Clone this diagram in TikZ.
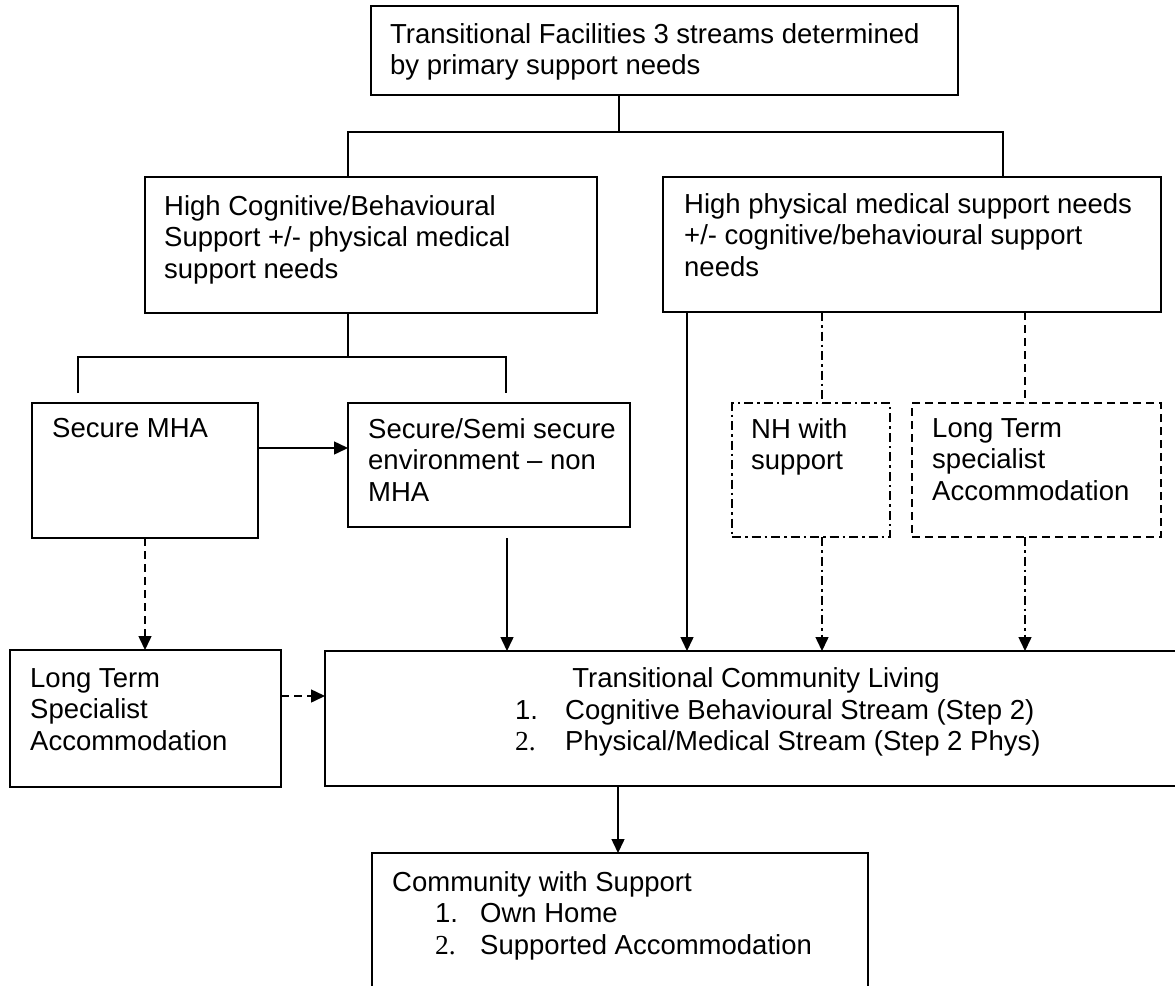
\documentclass[tikz,border=0pt]{standalone}
\usepackage{fontspec}
\setmainfont{Liberation Sans}
\newfontfamily\tnr{Liberation Serif}
\usetikzlibrary{arrows.meta}
\begin{document}
\begin{tikzpicture}[x=1pt,y=-1pt,
  box/.style={draw, line width=1.5pt, inner sep=0pt, outer sep=0pt, anchor=north west},
  txt/.style={anchor=north west, inner sep=0pt, align=left, font=\fontsize{27.5}{31.5}\selectfont},
  dsh/.style={dash pattern=on 8pt off 5pt},
  dashdot/.style={dash pattern=on 9pt off 4pt on 2.5pt off 4pt},
  conn/.style={line width=1.5pt},
  arr/.style={conn, -{Triangle[length=14pt,width=13pt]}}]
\useasboundingbox (0,0) rectangle (1175,985);
\clip (0,0) rectangle (1175,985);

% boxes
\node[box, minimum width=587pt, minimum height=89pt] (top) at (371,6) {};
\node[txt] (ttop) at (390,23) {Transitional Facilities 3 streams determined\\by primary support needs};

\node[box, minimum width=452pt, minimum height=136pt] (midL) at (145,177) {};
\node[txt] (tmidL) at (164,195) {High Cognitive/Behavioural\\Support +/- physical medical\\support needs};

\node[box, minimum width=498pt, minimum height=135pt] (midR) at (663,177) {};
\node[txt] (tmidR) at (684,193) {High physical medical support needs\\+/- cognitive/behavioural support\\needs};

\node[box, minimum width=226pt, minimum height=135pt] (sec) at (32,403) {};
\node[txt] (tsec) at (52,418) {Secure MHA};

\node[box, minimum width=282pt, minimum height=124pt] (semi) at (348,403) {};
\node[txt] (tsemi) at (368,418) {Secure/Semi secure\\environment \textendash{} non\\MHA};

\node[box, dashdot, minimum width=158pt, minimum height=134pt] (nh) at (732,403) {};
\node[txt] (tnh) at (751,418) {NH with\\support};

\node[box, dsh, minimum width=249pt, minimum height=134pt] (ltR) at (912,403) {};
\node[txt] (tltR) at (932,418) {Long Term\\specialist\\Accommodation};

\node[box, minimum width=271pt, minimum height=137pt] (ltL) at (10,650) {};
\node[txt] (tltL) at (30,668) {Long Term\\Specialist\\Accommodation};

\node[box, minimum width=862pt, minimum height=135pt] (trans) at (325,651) {};
\node[txt, anchor=north] (thead) at (756,667) {Transitional Community Living};
\node[txt] (tlist) at (515,699) {\makebox[50pt][l]{1.}Cognitive Behavioural Stream (Step 2)\\\makebox[50pt][l]{{\tnr 2.}}Physical/Medical Stream (Step 2 Phys)};

\node[box, minimum width=496pt, minimum height=200pt] (comm) at (372,853) {};
\node[txt] (tcomm) at (392,871) {Community with Support\\\hspace*{43pt}\makebox[45pt][l]{1.}Own Home\\\hspace*{43pt}\makebox[45pt][l]{{\tnr 2.}}Supported Accommodation};

% junction coordinates
\coordinate (j1) at (619,132);
\coordinate (jL) at (348,132);
\coordinate (jR) at (1003,132);
\coordinate (j2) at (348,357);
\coordinate (j2a) at (78,357);
\coordinate (j2b) at (506,357);
\coordinate (e1) at (78,393);
\coordinate (e2) at (506,393);
\coordinate (ya) at (300,448);
\coordinate (s1) at (507,538);
\coordinate (xs) at (687,0);
\coordinate (xnh) at (822,0);
\coordinate (xlt) at (1025,0);
\coordinate (yl) at (300,696);
\coordinate (xb) at (618,0);

% connectors
\draw[conn] (j1 |- top.south) -- (j1);
\draw[conn] (midL.north -| jL) -- (jL) -- (jR) -- (midR.north -| jR);
\draw[conn] (midL.south -| j2) -- (j2);
\draw[conn] (e1) -- (j2a) -- (j2b) -- (e2);
\draw[arr] (sec.east |- ya) -- (semi.west |- ya);
\draw[arr, dsh] (sec.south) -- (ltL.north -| sec.south);
\draw[arr] (s1) -- (s1 |- trans.north);
\draw[arr] (midR.south -| xs) -- (trans.north -| xs);
\draw[conn, dashdot] (midR.south -| xnh) -- (nh.north -| xnh);
\draw[arr, dashdot] (nh.south -| xnh) -- (trans.north -| xnh);
\draw[conn, dsh] (midR.south -| xlt) -- (ltR.north -| xlt);
\draw[arr, dashdot] (ltR.south -| xlt) -- (trans.north -| xlt);
\draw[arr, dsh] (ltL.east |- yl) -- (trans.west |- yl);
\draw[arr] (trans.south -| xb) -- (comm.north -| xb);
\end{tikzpicture}
\end{document}
